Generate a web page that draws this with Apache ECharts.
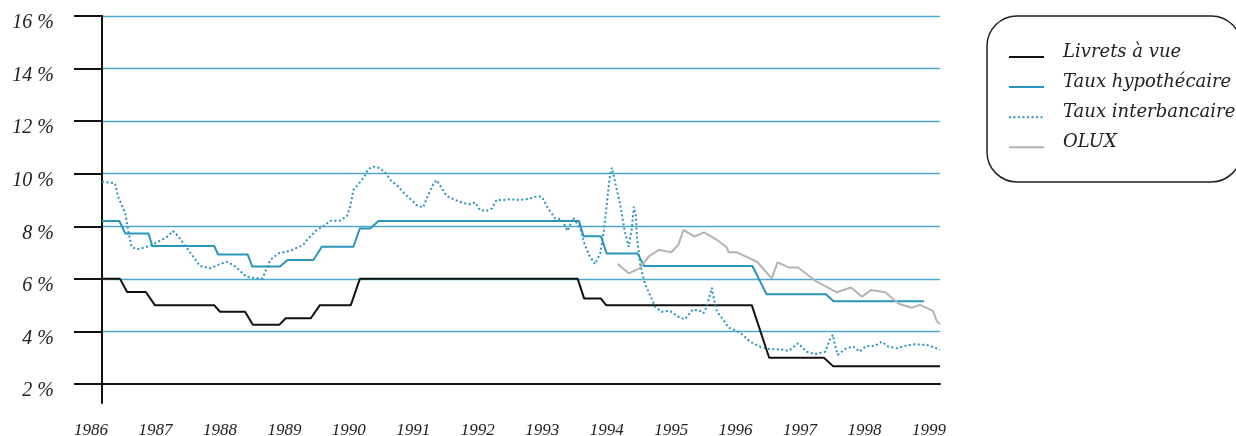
<!DOCTYPE html>
<html><head><meta charset="utf-8">
<script src="https://cdn.jsdelivr.net/npm/echarts@6/dist/echarts.min.js"></script>
<style>html,body{margin:0;padding:0;background:#fff}#c{width:1236px;height:436px}</style>
</head><body><div id="c"></div>
<script>
const seriesNames = ['Livrets à vue', 'Taux hypothécaire', 'Taux interbancaire', 'OLUX'];
const yearMin = 1986, yearMax = 1999;
const yMin = 2, yMax = 16, yStep = 2;

const livrets = [[1986.00,6.0],[1986.28,6.0],[1986.39,5.5],[1986.68,5.5],[1986.82,5.0],[1987.74,5.0],[1987.83,4.75],[1988.22,4.75],[1988.34,4.25],[1988.75,4.25],[1988.85,4.5],[1989.24,4.5],[1989.38,5.0],[1989.86,5.0],[1990.00,6.0],[1993.38,6.0],[1993.48,5.25],[1993.74,5.25],[1993.82,5.0],[1996.08,5.0],[1996.35,3.0],[1997.20,3.0],[1997.34,2.68],[1999.00,2.68]];

const hypothecaire = [[1986.00,8.2],[1986.27,8.2],[1986.36,7.73],[1986.72,7.73],[1986.78,7.25],[1987.74,7.25],[1987.80,6.93],[1988.26,6.93],[1988.33,6.47],[1988.76,6.47],[1988.88,6.72],[1989.28,6.72],[1989.41,7.22],[1989.90,7.22],[1990.00,7.92],[1990.16,7.92],[1990.29,8.2],[1993.40,8.2],[1993.47,7.62],[1993.74,7.62],[1993.83,6.96],[1994.31,6.96],[1994.41,6.49],[1996.09,6.49],[1996.31,5.41],[1997.23,5.41],[1997.35,5.15],[1998.75,5.15]];

const interbancaire = [[1986.00,9.70],[1986.20,9.64],[1986.25,9.13],[1986.36,8.50],[1986.41,7.80],[1986.46,7.20],[1986.56,7.13],[1986.74,7.25],[1987.00,7.58],[1987.10,7.82],[1987.18,7.63],[1987.32,7.16],[1987.52,6.49],[1987.68,6.40],[1987.80,6.53],[1987.93,6.65],[1988.04,6.53],[1988.24,6.08],[1988.40,6.02],[1988.49,6.02],[1988.61,6.72],[1988.74,6.97],[1988.92,7.07],[1989.12,7.29],[1989.18,7.48],[1989.33,7.86],[1989.43,7.99],[1989.54,8.21],[1989.69,8.21],[1989.80,8.39],[1989.85,8.74],[1989.90,9.38],[1990.00,9.67],[1990.08,9.93],[1990.13,10.18],[1990.21,10.27],[1990.31,10.21],[1990.39,10.05],[1990.49,9.72],[1990.60,9.51],[1990.70,9.22],[1990.80,9.00],[1990.88,8.81],[1990.98,8.71],[1991.06,9.19],[1991.14,9.60],[1991.19,9.76],[1991.27,9.45],[1991.35,9.15],[1991.48,9.00],[1991.61,8.88],[1991.71,8.84],[1991.79,8.91],[1991.86,8.62],[1991.97,8.59],[1992.05,8.68],[1992.12,9.00],[1992.23,9.00],[1992.33,9.03],[1992.49,9.00],[1992.61,9.04],[1992.74,9.13],[1992.82,9.13],[1992.92,8.68],[1993.03,8.30],[1993.13,8.27],[1993.22,7.82],[1993.31,8.33],[1993.42,7.92],[1993.49,7.29],[1993.57,6.84],[1993.65,6.56],[1993.73,6.97],[1993.79,7.92],[1993.84,9.06],[1993.88,9.95],[1993.91,10.23],[1993.97,9.57],[1994.04,8.81],[1994.11,7.80],[1994.17,7.22],[1994.22,7.92],[1994.25,8.74],[1994.28,8.43],[1994.30,7.54],[1994.35,6.53],[1994.42,5.83],[1994.50,5.39],[1994.58,4.94],[1994.68,4.75],[1994.81,4.78],[1994.94,4.56],[1995.04,4.46],[1995.17,4.84],[1995.28,4.78],[1995.33,4.69],[1995.38,4.94],[1995.46,5.66],[1995.48,5.39],[1995.54,4.75],[1995.64,4.44],[1995.72,4.14],[1995.85,4.02],[1995.95,3.85],[1996.05,3.61],[1996.21,3.42],[1996.36,3.32],[1996.52,3.32],[1996.65,3.26],[1996.80,3.55],[1996.93,3.23],[1997.06,3.13],[1997.22,3.23],[1997.29,3.68],[1997.34,3.87],[1997.37,3.49],[1997.41,3.11],[1997.55,3.36],[1997.66,3.42],[1997.75,3.23],[1997.86,3.45],[1997.99,3.45],[1998.10,3.61],[1998.20,3.42],[1998.33,3.36],[1998.46,3.45],[1998.61,3.51],[1998.79,3.49],[1998.92,3.38],[1999.00,3.30]];

const olux = [[1994.00,6.57],[1994.17,6.21],[1994.34,6.40],[1994.49,6.87],[1994.64,7.10],[1994.83,7.01],[1994.94,7.29],[1995.02,7.86],[1995.19,7.61],[1995.34,7.77],[1995.54,7.48],[1995.69,7.20],[1995.72,7.01],[1995.85,7.01],[1996.16,6.65],[1996.39,6.02],[1996.48,6.63],[1996.66,6.43],[1996.80,6.43],[1997.08,5.90],[1997.40,5.49],[1997.62,5.67],[1997.79,5.32],[1997.93,5.58],[1998.15,5.49],[1998.36,5.05],[1998.56,4.90],[1998.69,5.01],[1998.89,4.78],[1998.95,4.40],[1999.00,4.27]];

const BLUE = '#2a95bb';
const GRID_BLUE = '#4fa7c9';
const chart = echarts.init(document.getElementById('c'), null, {renderer: 'canvas'});
const axisFont = {fontFamily: 'Liberation Serif', fontStyle: 'italic', color: '#222'};

chart.setOption({
  animation: false,
  backgroundColor: '#fff',
  grid: [
    {left: 102, right: 296, top: 16, bottom: 52, outerBoundsMode: 'none', containLabel: false},
    {left: 102, right: 296, top: 16, bottom: 33, outerBoundsMode: 'none', containLabel: false}
  ],
  legend: {
    orient: 'vertical',
    left: 987, top: 16,
    data: seriesNames,
    padding: [27, 6, 29, 21],
    itemWidth: 35, itemHeight: 14, itemGap: 10.5,
    itemStyle: {opacity: 0},
    borderColor: '#222', borderWidth: 1.5, borderRadius: 30,
    formatter: name => '{t|' + name + '}',
    textStyle: {
      padding: [0, 0, 10, 14],
      rich: {t: {fontFamily: 'DejaVu Serif', fontStyle: 'italic', fontSize: 18, color: '#222', lineHeight: 20}}
    }
  },
  xAxis: [
    {
      type: 'value', gridIndex: 0, min: yearMin, max: yearMax, interval: 1, z: 5,
      axisLine: {show: true, onZero: false, lineStyle: {color: '#111', width: 2}},
      axisTick: {show: false},
      splitLine: {show: false},
      axisLabel: Object.assign({fontSize: 17, margin: 38, padding: [0, 22, 0, 0], formatter: v => String(Math.round(v))}, axisFont)
    },
    {type: 'value', gridIndex: 1, min: 0, max: 1, show: false}
  ],
  yAxis: [
    {
      type: 'value', gridIndex: 0, min: yMin, max: yMax, interval: yStep,
      axisLine: {show: true, lineStyle: {color: '#111', width: 2}},
      axisTick: {show: true, length: 28, lineStyle: {color: '#111', width: 2}},
      splitLine: {show: true, showMinLine: false, lineStyle: {color: GRID_BLUE, width: 1.3}},
      axisLabel: Object.assign({fontSize: 20, margin: 48, verticalAlign: 'top', lineHeight: 14, formatter: v => v + ' %'}, axisFont)
    },
    {
      type: 'value', gridIndex: 1, min: 0, max: 1,
      axisLine: {show: true, lineStyle: {color: '#111', width: 2}},
      axisTick: {show: false}, axisLabel: {show: false}, splitLine: {show: false}
    }
  ],
  series: [
    {name: seriesNames[0], type: 'line', data: livrets, symbol: 'none', lineStyle: {color: '#111', width: 2}, itemStyle: {color: '#111'}, z: 3},
    {name: seriesNames[1], type: 'line', data: hypothecaire, symbol: 'none', lineStyle: {color: BLUE, width: 2}, itemStyle: {color: BLUE}, z: 3},
    {name: seriesNames[2], type: 'line', data: interbancaire, symbol: 'none', lineStyle: {color: BLUE, width: 2, type: [2, 2.5]}, itemStyle: {color: BLUE}, z: 3},
    {name: seriesNames[3], type: 'line', data: olux, symbol: 'none', lineStyle: {color: '#b4b4b4', width: 2}, itemStyle: {color: '#b4b4b4'}, z: 3}
  ]
});
</script>
</body></html>
